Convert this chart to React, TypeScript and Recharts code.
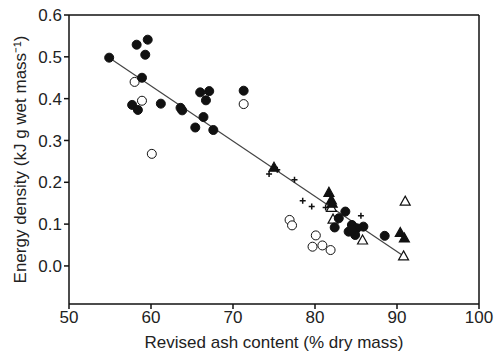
import {
  ScatterChart,
  Scatter,
  XAxis,
  YAxis,
  ReferenceLine,
  Label,
} from "recharts";

const filledCircles = [
  [54.9, 0.498], [58.25, 0.529], [59.6, 0.541], [59.3, 0.505], [58.9, 0.45],
  [57.7, 0.385], [58.4, 0.373], [61.2, 0.388], [63.6, 0.378], [63.8, 0.372],
  [66.0, 0.415], [67.1, 0.418], [66.7, 0.396], [66.4, 0.356], [65.4, 0.331],
  [67.6, 0.325], [71.3, 0.419], [83.7, 0.13], [82.9, 0.114], [82.4, 0.092],
  [85.9, 0.094], [84.1, 0.082], [84.5, 0.098], [85.1, 0.09], [84.9, 0.074],
  [84.5, 0.086], [88.5, 0.072],
];
const openCircles = [
  [58.0, 0.44], [58.9, 0.395], [60.1, 0.268], [71.3, 0.387], [76.9, 0.11],
  [77.2, 0.097], [80.1, 0.073], [79.7, 0.046], [80.9, 0.049], [81.9, 0.038],
];
const filledTriangles = [
  [75.0, 0.236], [81.7, 0.176], [82.0, 0.158], [82.1, 0.15], [90.4, 0.08],
  [90.9, 0.067],
];
const openTriangles = [
  [82.0, 0.14], [82.2, 0.112], [85.8, 0.062], [91.0, 0.155], [90.8, 0.024],
];
const pluses = [
  [74.4, 0.22], [75.4, 0.23], [77.5, 0.206], [78.5, 0.156], [79.6, 0.142],
  [81.3, 0.14], [85.6, 0.12],
];
// fitted regression line end points
const fitLine = [
  [54.9, 0.498],
  [90.8, 0.024],
];

const xTicks = [50, 60, 70, 80, 90, 100];
const yTicks = [0, 0.1, 0.2, 0.3, 0.4, 0.5, 0.6];

const toPts = (arr: number[][]) => arr.map(([x, y]) => ({ x, y }));

const ink = "#111";
const textCol = "#222";
const font = "'Liberation Sans', Arial, sans-serif";

const Dot = (fill: string) => (p: any) => (
  <circle cx={p.cx} cy={p.cy} r={4.5} fill={fill} stroke={ink} strokeWidth={1} />
);
const Tri = (fill: string) => (p: any) => {
  const { cx, cy } = p;
  const s = 5;
  return (
    <path
      d={`M${cx},${cy - s} L${cx + s},${cy + s * 0.8} L${cx - s},${cy + s * 0.8} Z`}
      fill={fill}
      stroke={ink}
      strokeWidth={1.2}
    />
  );
};
const Plus = (p: any) => (
  <path
    d={`M${p.cx - 3},${p.cy} H${p.cx + 3} M${p.cx},${p.cy - 3} V${p.cy + 3}`}
    stroke={ink}
    strokeWidth={1.5}
  />
);

export default function App() {
  return (
    <div style={{ position: "absolute", left: 0, top: 0, background: "#fff" }}>
      <ScatterChart
        width={499}
        height={351}
        margin={{ top: 15, right: 20, bottom: 0, left: 0 }}
        style={{ fontFamily: font }}
      >
        <XAxis
          type="number"
          dataKey="x"
          domain={[50, 100]}
          ticks={xTicks}
          height={47}
          stroke={ink}
          strokeWidth={1.5}
          tickSize={5}
          tick={{ fill: textCol, fontSize: 17 }}
        >
          <Label
            value="Revised ash content (% dry mass)"
            position="insideBottom"
            offset={3}
            style={{ fill: textCol, fontSize: 17 }}
          />
        </XAxis>
        <YAxis
          type="number"
          dataKey="y"
          domain={[-0.091, 0.6]}
          ticks={yTicks}
          width={69}
          stroke={ink}
          strokeWidth={1.5}
          tickSize={5}
          tickFormatter={(v: number) => v.toFixed(1)}
          tick={{ fill: textCol, fontSize: 17 }}
        >
          <Label
            value="Energy density (kJ g wet mass⁻¹)"
            angle={-90}
            position="insideLeft"
            offset={20}
            style={{ fill: textCol, fontSize: 17, textAnchor: "middle" }}
          />
        </YAxis>
        <ReferenceLine y={0.6} stroke={ink} strokeWidth={1.5} />
        <ReferenceLine x={100} stroke={ink} strokeWidth={1.5} />
        <ReferenceLine
          segment={toPts(fitLine)}
          stroke="#444"
          strokeWidth={1.2}
        />
        <Scatter data={toPts(openCircles)} shape={Dot("#fff")} isAnimationActive={false} />
        <Scatter data={toPts(pluses)} shape={Plus} isAnimationActive={false} />
        <Scatter data={toPts(openTriangles)} shape={Tri("#fff")} isAnimationActive={false} />
        <Scatter data={toPts(filledTriangles)} shape={Tri(ink)} isAnimationActive={false} />
        <Scatter data={toPts(filledCircles)} shape={Dot(ink)} isAnimationActive={false} />
      </ScatterChart>
    </div>
  );
}
